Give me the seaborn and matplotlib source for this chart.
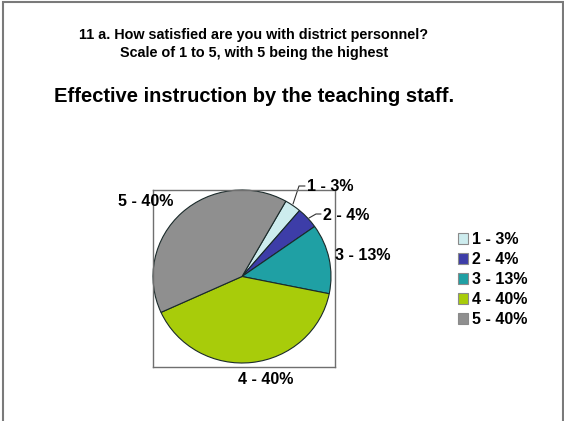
import matplotlib
matplotlib.use("Agg")
import matplotlib.pyplot as plt
import seaborn as sns
from matplotlib.patches import Rectangle

sns.set_theme(style="white")
plt.rcParams["font.family"] = ["Liberation Sans", "DejaVu Sans"]
plt.rcParams["text.color"] = "black"

# Survey responses
categories = ["1", "2", "3", "4", "5"]
percents = [3, 4, 13, 40, 40]
slice_colors = ["#cdecee", "#3d3da8", "#1fa0a4", "#a8cc0a", "#8f8f8f"]

title_top = "11 a. How satisfied are you with district personnel?\nScale of 1 to 5, with 5 being the highest"
title_main = "Effective instruction by the teaching staff."

labels = [f"{c} - {p}%" for c, p in zip(categories, percents)]

W, H = 564, 421
fig = plt.figure(figsize=(W / 100, H / 100), dpi=100)
fig.patch.set_facecolor("white")

# Slide frame
fig.patches.append(Rectangle((3 / W, -0.05), (563 - 3) / W, (H - 2) / H + 0.05,
                             transform=fig.transFigure, fill=False,
                             edgecolor="#7a7a7a", linewidth=1.5))

fig.text(254 / W, 1 - 44 / H, title_top, ha="center", va="center",
         fontsize=10.4, fontweight="bold", linespacing=1.4, color="black")
fig.text(254 / W, 1 - 97 / H, title_main, ha="center", va="center",
         fontsize=14.5, fontweight="bold", color="black")

# Pie plot area (pixel box 153..335 x 190..367)
ax = fig.add_axes([153 / W, 1 - 367 / H, 182 / W, 177 / H])
cx, cy, rx, ry = 242, 276.5, 89, 86.5


def to_data(px, py):
    return (px - cx) / rx, (cy - py) / ry


wedges, _ = ax.pie(percents, colors=slice_colors, startangle=60.5,
                   counterclock=False, radius=1, frame=True,
                   wedgeprops=dict(edgecolor="#1a2a2a", linewidth=0.8))
ax.set_xlim((153 - cx) / rx, (335 - cx) / rx)
ax.set_ylim((cy - 367) / ry, (cy - 190) / ry)
ax.set_aspect("auto")
ax.set_xticks([])
ax.set_yticks([])
for s in ax.spines.values():
    s.set_visible(True)
    s.set_edgecolor("#6f6f6f")
    s.set_linewidth(1.0)

lab_kw = dict(fontsize=11.5, fontweight="bold", va="center", clip_on=False,
              color="black")
# label anchors (pixel positions) and alignment
label_pos = [
    ((307, 187), "left"),
    ((323, 215), "left"),
    ((335, 256), "left"),
    ((266, 379), "center"),
    ((146, 202), "center"),
]
for lab, ((px, py), ha) in zip(labels, label_pos):
    x, y = to_data(px, py)
    ax.text(x, y, lab, ha=ha, **lab_kw)

# leader lines for the two small slices
lead1 = [to_data(293, 204), to_data(299, 186), to_data(305, 186)]
lead2 = [to_data(309, 218), to_data(316, 214), to_data(321, 214)]
for pts in (lead1, lead2):
    xs, ys = zip(*pts)
    ax.plot(xs, ys, color="#333333", linewidth=0.8, clip_on=False)

leg = fig.legend(wedges, labels, loc="upper left",
                 bbox_to_anchor=(450 / W, 1 - 224 / H),
                 frameon=False, prop=dict(size=11.5, weight="bold"),
                 handlelength=0.65, handleheight=0.65, handletextpad=0.2,
                 labelspacing=0.32, borderpad=0, labelcolor="black")
for h in leg.legend_handles:
    h.set_edgecolor("#8a8a8a")
    h.set_linewidth(0.8)

fig.savefig("out.png", dpi=100, facecolor="white")
